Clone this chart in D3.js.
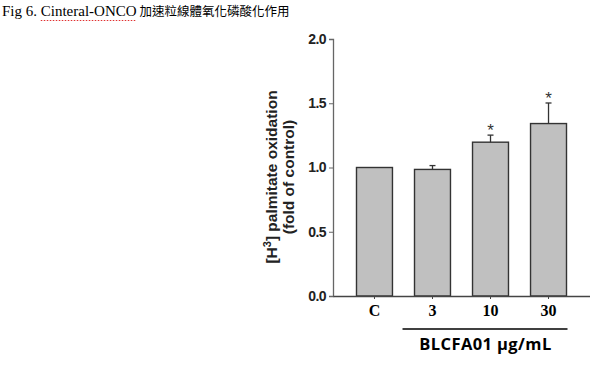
<!DOCTYPE html>
<html>
<head>
<meta charset="utf-8">
<script src="https://cdn.jsdelivr.net/npm/d3@7"></script>
<style>
  body { margin: 0; background: #fff; }
  svg { display: block; }
</style>
</head>
<body>
<div id="container"></div>
<script>
const categories = ["C", "3", "10", "30"]
const means = [1.0, 0.985, 1.197, 1.342]
const errors = [0, 0.03, 0.055, 0.16]
const significant = [false, false, true, true]
const yTicks = [0.0, 0.5, 1.0, 1.5, 2.0]

const w = 590
const h = 378

const svg = d3.select("#container")
    .append("svg")
    .attr("width", w)
    .attr("height", h)

// title line
const title = svg.append("text")
    .attr("x", 2)
    .attr("y", 16)
    .attr("font-family", "Liberation Serif, serif")
    .attr("font-size", 15)
title.append("tspan").text("Fig 6. ")
title.append("tspan").attr("id", "brand").text("Cinteral-ONCO")
title.append("tspan").attr("font-family", "Noto Sans CJK TC").attr("font-size", 12.5).text(" 加速粒線體氧化磷酸化作用")

const brand = document.getElementById("brand")
const bb = brand.getBBox()
svg.append("line")
    .attr("x1", bb.x).attr("x2", bb.x + bb.width)
    .attr("y1", 20.5).attr("y2", 20.5)
    .attr("stroke", "#e03030")
    .attr("stroke-width", 1.2)
    .attr("stroke-dasharray", "1.5,1.5")

const xScale = d3.scaleBand()
    .domain(categories)
    .range([333, 590])
    .paddingInner(0.38)
    .paddingOuter(0.405)

const yScale = d3.scaleLinear()
    .domain([0, 2])
    .range([296, 39])

// bars
svg.selectAll("rect.bar")
    .data(categories)
    .enter()
    .append("rect")
    .attr("class", "bar")
    .attr("x", d => xScale(d))
    .attr("y", (d, i) => yScale(means[i]))
    .attr("width", xScale.bandwidth())
    .attr("height", (d, i) => yScale(0) - yScale(means[i]))
    .attr("fill", "#c0c0c0")
    .attr("stroke", "#333")
    .attr("stroke-width", 1.4)

// error bars (upper only)
const eb = svg.append("g").attr("stroke", "#333").attr("stroke-width", 1.3)
categories.forEach((c, i) => {
    if (!errors[i]) return
    const cx = xScale(c) + xScale.bandwidth() / 2
    eb.append("line")
        .attr("x1", cx).attr("x2", cx)
        .attr("y1", yScale(means[i])).attr("y2", yScale(means[i] + errors[i]))
    eb.append("line")
        .attr("x1", cx - 3).attr("x2", cx + 3)
        .attr("y1", yScale(means[i] + errors[i])).attr("y2", yScale(means[i] + errors[i]))
})

// stars
svg.selectAll("text.star")
    .data(categories.filter((c, i) => significant[i]))
    .enter()
    .append("text")
    .attr("class", "star")
    .attr("x", d => xScale(d) + xScale.bandwidth() / 2)
    .attr("y", d => {
        const i = categories.indexOf(d)
        return yScale(means[i] + errors[i]) + 1
    })
    .attr("text-anchor", "middle")
    .attr("font-family", "Liberation Sans, Arial, sans-serif")
    .attr("font-size", 17)
    .attr("fill", "#333")
    .text("*")

// y axis
const yAxis = svg.append("g")
    .attr("transform", "translate(333,0)")
    .call(d3.axisLeft(yScale).tickValues(yTicks).tickFormat(d3.format(".1f")).tickSize(4).tickPadding(3))
yAxis.select(".domain").attr("stroke", "#666").attr("stroke-width", 1.3)
yAxis.selectAll(".tick line").attr("stroke", "#666")
yAxis.selectAll("text")
    .attr("font-family", "Liberation Sans, Arial, sans-serif")
    .attr("font-weight", "bold")
    .attr("font-size", 14)
    .attr("letter-spacing", -0.6)
    .attr("fill", "#222")

// x axis
const xAxis = svg.append("g")
    .attr("transform", "translate(0,296)")
    .call(d3.axisBottom(xScale).tickSize(3).tickSizeOuter(0).tickPadding(6))
xAxis.select(".domain").attr("stroke", "#444").attr("stroke-width", 1.3)
xAxis.selectAll(".tick line").attr("stroke", "#444")
xAxis.selectAll("text")
    .attr("font-family", "Liberation Serif, serif")
    .attr("font-weight", "bold")
    .attr("font-size", 16)
    .attr("fill", "#000")

// group bracket line under 3..30
svg.append("line")
    .attr("x1", xScale("3") - 12)
    .attr("x2", xScale("30") + xScale.bandwidth() + 1)
    .attr("y1", 329).attr("y2", 329)
    .attr("stroke", "#000")
    .attr("stroke-width", 1.3)

svg.append("text")
    .attr("x", (xScale("3") - 10 + xScale("30") + xScale.bandwidth()) / 2)
    .attr("y", 350)
    .attr("text-anchor", "middle")
    .attr("font-family", "Open Sans, sans-serif")
    .attr("font-weight", "bold")
    .attr("font-size", 16.5)
    .attr("letter-spacing", 0.4)
    .text("BLCFA01 \u03bcg/mL")

// y axis title
const yTitle = svg.append("text")
    .attr("transform", "translate(277,177) rotate(-90)")
    .attr("text-anchor", "middle")
    .attr("font-family", "Liberation Sans, Arial, sans-serif")
    .attr("font-weight", "bold")
    .attr("font-size", 15.5)
    .attr("fill", "#222")
yTitle.append("tspan").attr("x", 0).attr("dy", 0).text("[H")
yTitle.append("tspan").attr("dy", -6).attr("font-size", 11).text("3")
yTitle.append("tspan").attr("dy", 6).text("] palmitate oxidation")
yTitle.append("tspan").attr("x", 0).attr("dy", 17).text("(fold of control)")
</script>
</body>
</html>
